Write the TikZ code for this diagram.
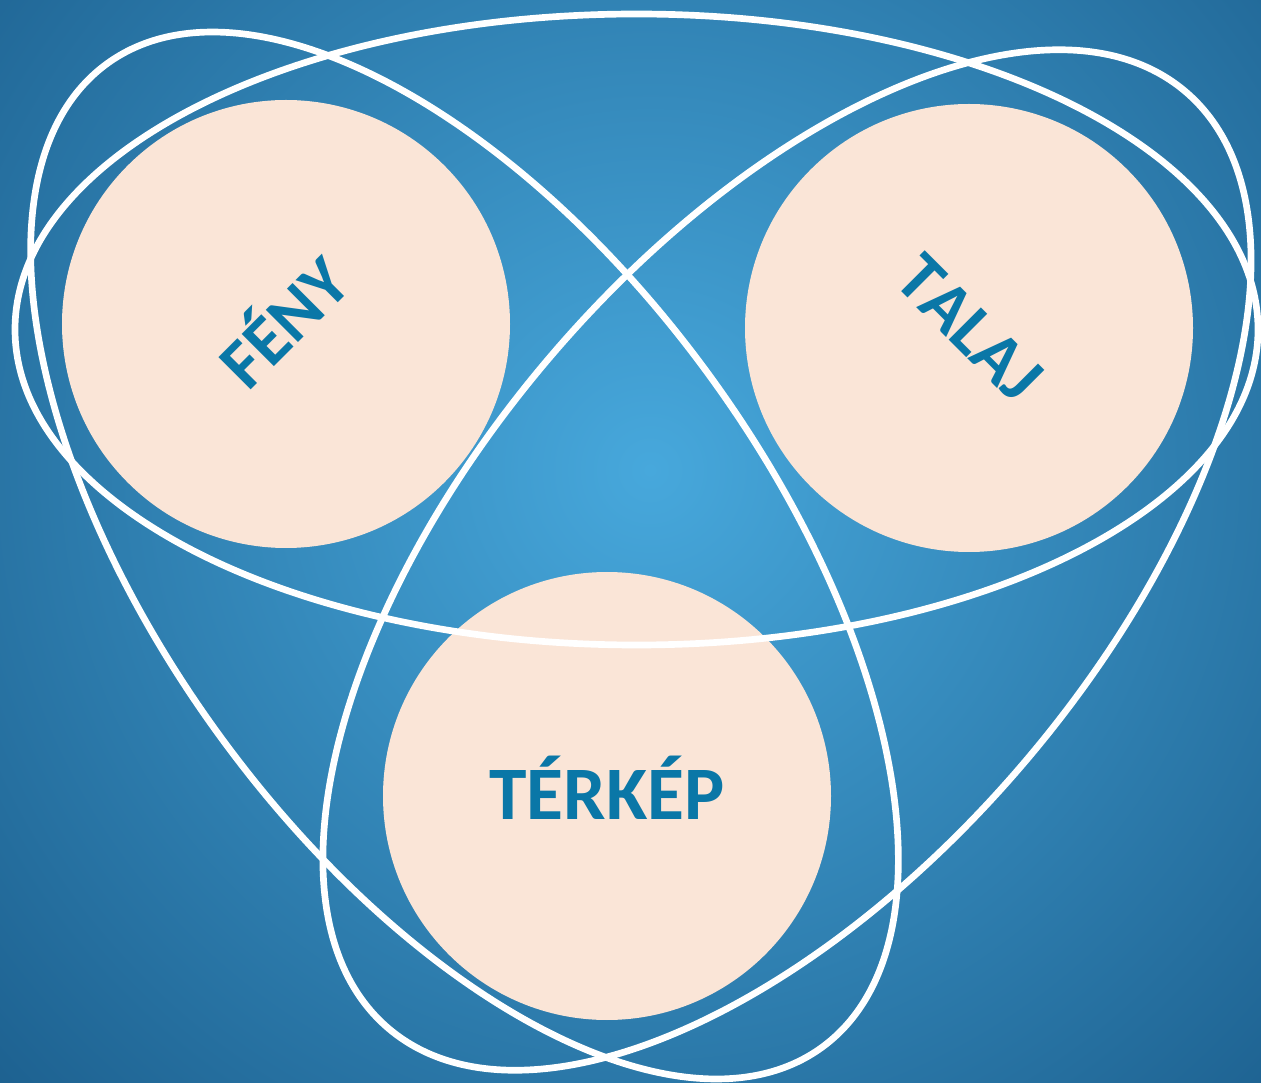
\documentclass[tikz,border=0pt]{standalone}
\usepackage{fontspec}
\setmainfont{Carlito}
\usepackage{tikz}

\definecolor{bginner}{HTML}{47A8DC}
\definecolor{bgouter}{HTML}{1D6190}
\definecolor{peach}{HTML}{FAE5D7}
\definecolor{labelblue}{HTML}{0A77A7}
\pgfdeclareradialshading{backdrop}{\pgfpointorigin}{color(0bp)=(bginner); color(25bp)=(bgouter); color(50bp)=(bgouter)}

\begin{document}
\begin{tikzpicture}[
    disc/.style={circle, fill=peach, minimum size=44.8mm, inner sep=0pt,
        text=labelblue,
        font=\fontsize{20}{24}\selectfont\bfseries\addfontfeature{Kerning=Off},
        text height=12.6pt, text depth=0pt},
    bigdisc/.style={disc, font=\fontsize{21.5}{26}\selectfont\bfseries,
        text height=13.6pt},
    orbit/.style={draw=white, line width=1.9pt}
]

\useasboundingbox (0,0) rectangle (12.61,-10.83);
\begin{scope}
    \clip (0,0) rectangle (12.61,-10.83);
    \shade[shading=backdrop] (6.5,-4.7) circle (9);
\end{scope}

\node[disc, rotate=45] (feny) at (2.86,-3.24) {FÉNY};
\node[disc, rotate=-45] (talaj) at (9.69,-3.28) {TALAJ};
\node[bigdisc] (terkep) at (6.07,-7.96) {TÉRKÉP};

\coordinate (fenytalaj) at (6.365,-3.295);
\coordinate (fenyterkep) at (4.645,-5.555);
\coordinate (talajterkep) at (7.87,-5.60);

\draw[orbit] (fenytalaj) ellipse [x radius=6.215, y radius=3.155];
\draw[orbit, rotate around={-54:(fenyterkep)}] (fenyterkep) ellipse [x radius=6.08, y radius=3.04];
\draw[orbit, rotate around={49.6:(talajterkep)}] (talajterkep) ellipse [x radius=6.15, y radius=3.12];

\end{tikzpicture}
\end{document}
